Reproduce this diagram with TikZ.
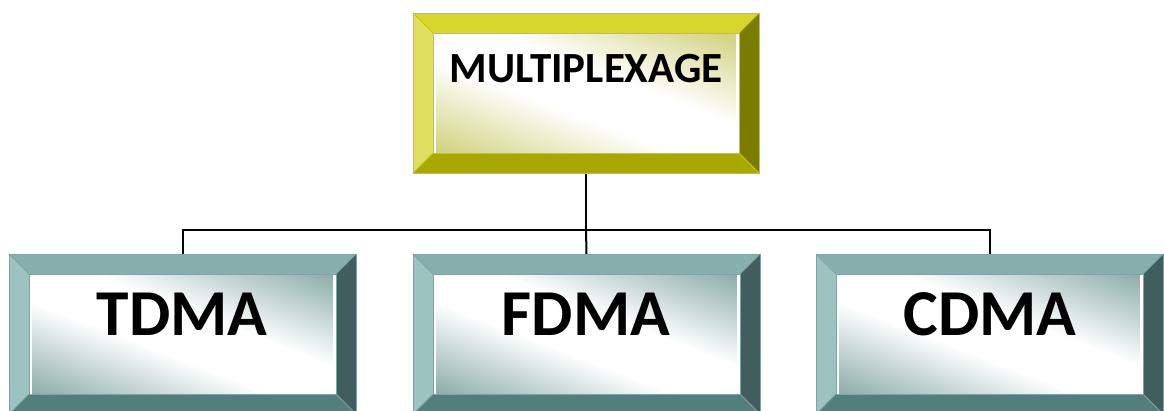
\documentclass[tikz,border=0pt]{standalone}
\usepackage{fontspec}
\setmainfont{Carlito}
\usetikzlibrary{calc}

% yellow palette (root)
\definecolor{ytop}{HTML}{D7D62F}
\definecolor{yleft}{HTML}{E0DF60}
\definecolor{yright}{HTML}{7B7B00}
\definecolor{ybot}{HTML}{A9A800}
\definecolor{ytint}{HTML}{CCCC6E}
\definecolor{yline}{HTML}{C9C90A}
% teal palette (children)
\definecolor{ttop}{HTML}{86AFAD}
\definecolor{tleft}{HTML}{9DC3C1}
\definecolor{tright}{HTML}{3F5E5D}
\definecolor{tbot}{HTML}{527F7C}
\definecolor{ttint}{HTML}{7FA3A1}
\definecolor{tline}{HTML}{7FA5A3}

% face fills: tinted edges, broad white band through the middle
% (TikZ maps the 25bp..75bp part of a shading onto the filled path)
\pgfdeclareverticalshading{yface}{100bp}{color(0bp)=(ytint); color(30bp)=(ytint);
  color(46bp)=(white); color(54bp)=(white); color(70bp)=(ytint); color(100bp)=(ytint)}
\pgfdeclareverticalshading{tface}{100bp}{color(0bp)=(ttint); color(30bp)=(ttint);
  color(46bp)=(white); color(54bp)=(white); color(70bp)=(ttint); color(100bp)=(ttint)}

\newcommand\bw{20}
% bevelled panel drawn around a named node; #2 = palette prefix
\newcommand\bevelpanel[2]{%
  \fill[#2top] (#1.north west) -- (#1.north east) -- ++(-\bw,\bw)
     -- ($(#1.north west)+(\bw,\bw)$) -- cycle;
  \fill[#2left] (#1.north west) -- ($(#1.north west)+(\bw,\bw)$)
     -- ($(#1.south west)+(\bw,-\bw)$) -- (#1.south west) -- cycle;
  \fill[#2right] (#1.north east) -- (#1.south east)
     -- ($(#1.south east)+(-\bw,-\bw)$) -- ($(#1.north east)+(-\bw,\bw)$) -- cycle;
  \fill[#2bot] (#1.south west) -- (#1.south east)
     -- ($(#1.south east)+(-\bw,-\bw)$) -- ($(#1.south west)+(\bw,-\bw)$) -- cycle;
  \begin{scope}
    \clip ($(#1.north west)+(\bw,\bw)$) rectangle ($(#1.south east)+(-\bw,-\bw)$);
    % square path so the rotated shading is not distorted
    \shade[shading=#2face, shading angle=-21]
      ($(#1.center)+(-150,-150)$) rectangle ($(#1.center)+(150,150)$);
  \end{scope}
  \draw[#2line, line width=0.8pt] ($(#1.north west)+(\bw,\bw)$) rectangle ($(#1.south east)+(-\bw,-\bw)$);
  \draw[#2line, line width=0.8pt] (#1.north west) -- ($(#1.north west)+(\bw,\bw)$)
     (#1.north east) -- ($(#1.north east)+(-\bw,\bw)$)
     (#1.south west) -- ($(#1.south west)+(\bw,-\bw)$)
     (#1.south east) -- ($(#1.south east)+(-\bw,-\bw)$);
  \draw[#2line, line width=1pt] (#1.north west) rectangle (#1.south east);
}

\tikzset{
  panel/.style={rectangle, inner sep=0pt, outer sep=0pt},
  rootpanel/.style={panel, minimum width=346pt, minimum height=160pt},
  childpanel/.style={panel, minimum width=347pt, minimum height=160pt},
  roottext/.style={font=\fontsize{43}{43}\selectfont\bfseries, anchor=base, inner sep=0pt},
  childtext/.style={font=\fontsize{65.5}{65.5}\selectfont\bfseries, anchor=base, inner sep=0pt},
  link/.style={draw=black, line width=2pt},
}

\begin{document}
\begin{tikzpicture}[x=1pt, y=-1pt]
  \useasboundingbox (0,0) rectangle (1164,410);
  \fill[white] (0,0) rectangle (1164,410);
  \clip (0,0) rectangle (1164,410);

  \node[rootpanel]  (mux)  at (586,93) {};
  \node[childpanel] (tdma) at (182.5,334) {};
  \node[childpanel] (fdma) at (586.5,334) {};
  \node[childpanel] (cdma) at (989.5,334) {};

  \coordinate (bus) at (586,230);
  \draw[link] (mux.south) -- (bus);
  \draw[link] (bus) -| (tdma.north);
  \draw[link] (bus) -- (fdma.north);
  \draw[link] (bus) -| (cdma.north);

  \bevelpanel{mux}{y}
  \bevelpanel{tdma}{t}
  \bevelpanel{fdma}{t}
  \bevelpanel{cdma}{t}

  \node[roottext]  (muxlabel)  at (586,82)  {MULTIPLEXAGE};
  \node[childtext] (tdmalabel) at (182,335) {TDMA};
  \node[childtext] (fdmalabel) at (586,335) {FDMA};
  \node[childtext] (cdmalabel) at (990,335) {CDMA};
\end{tikzpicture}
\end{document}
